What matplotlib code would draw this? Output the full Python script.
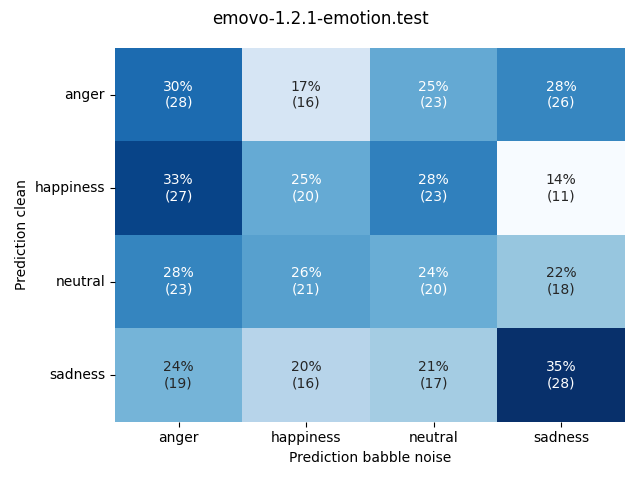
import numpy as np
import matplotlib
matplotlib.use("Agg")
import matplotlib.pyplot as plt
import seaborn as sns

labels = ["anger", "happiness", "neutral", "sadness"]

# counts: rows = prediction clean, columns = prediction babble noise
counts = np.array([
    [28, 16, 23, 26],
    [27, 20, 23, 11],
    [23, 21, 20, 18],
    [19, 16, 17, 28],
])

# row-normalised percentages
pct = 100.0 * counts / counts.sum(axis=1, keepdims=True)

annot = np.array([[f"{p:.0f}%\n({c})" for p, c in zip(prow, crow)]
                  for prow, crow in zip(pct, counts)])

fig, ax = plt.subplots(figsize=(6.4, 4.8), dpi=100)
sns.heatmap(pct, annot=annot, fmt="", cmap="Blues", cbar=False,
            xticklabels=labels, yticklabels=labels, ax=ax)
ax.set_xlabel("Prediction babble noise")
ax.set_ylabel("Prediction clean")
ax.set_yticklabels(labels, rotation=0)
fig.suptitle("emovo-1.2.1-emotion.test")
fig.tight_layout()
fig.savefig("out.png", dpi=100)
